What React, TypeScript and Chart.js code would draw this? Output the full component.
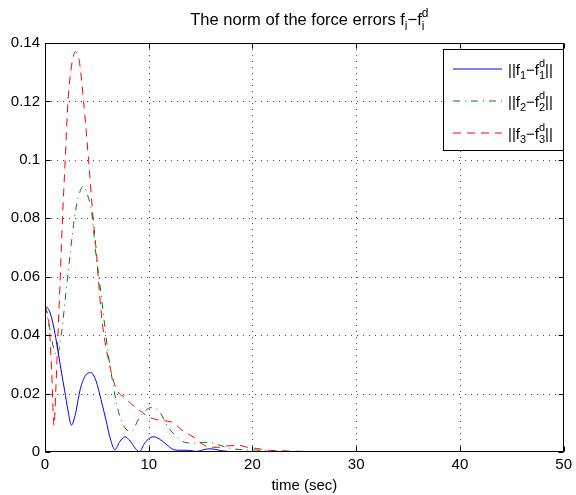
import React, { useEffect, useRef } from 'react';
import { Chart, registerables } from 'chart.js';

Chart.register(...registerables);

// ---- data ----
const f1Time = [0, 0.4, 0.8, 1.25, 1.6, 1.9, 2.2, 2.55, 2.9, 3.4, 3.9, 4.4, 4.9, 5.4, 5.9, 6.3, 6.75, 7.2, 7.7, 8.2, 8.7, 9.1, 9.6, 10.1, 10.5, 11.0, 11.7, 12.4, 13.0, 13.8, 14.6, 15.4, 16.0, 16.8, 17.6, 19, 22, 26, 50];
const f1Norm = [0.050, 0.0485, 0.0435, 0.0346, 0.027, 0.0209, 0.0145, 0.0092, 0.0125, 0.0215, 0.0262, 0.0272, 0.0245, 0.018, 0.0106, 0.0045, 0.0008, 0.0035, 0.0052, 0.0038, 0.0013, 0.0001, 0.003, 0.0048, 0.0052, 0.0045, 0.0026, 0.0008, 0.0006, 0.0006, 0.0002, 0.0009, 0.0011, 0.0006, 0.0002, 0.0001, 0, 0, 0];

const f2Time = [0, 0.4, 0.8, 1.15, 1.6, 2.0, 2.4, 2.8, 3.2, 3.7, 4.1, 4.5, 4.9, 5.3, 5.6, 6.1, 6.5, 6.9, 7.5, 8.3, 9.1, 9.7, 10.2, 11.0, 11.8, 12.6, 13.6, 14.6, 15.4, 16.0, 16.8, 17.8, 19, 20.3, 22, 25, 30, 50];
const f2Norm = [0.050, 0.0435, 0.036, 0.033, 0.041, 0.054, 0.067, 0.079, 0.087, 0.091, 0.088, 0.082, 0.068, 0.057, 0.048, 0.0335, 0.0245, 0.0165, 0.0095, 0.007, 0.0118, 0.0142, 0.0152, 0.014, 0.0089, 0.0055, 0.0032, 0.003, 0.0033, 0.0032, 0.0024, 0.0013, 0.0008, 0.0007, 0.0003, 0.0001, 0, 0];

const f3Time = [0, 0.25, 0.45, 0.65, 0.87, 1.05, 1.25, 1.45, 1.65, 1.95, 2.2, 2.55, 2.95, 3.3, 3.72, 4.2, 4.64, 4.94, 5.26, 5.58, 6.08, 6.7, 7.2, 7.6, 8.3, 9.0, 10.0, 11.0, 12.3, 13.3, 13.9, 14.4, 15.2, 15.8, 16.6, 17.4, 18.7, 19.4, 20.4, 21.6, 23, 25, 30, 50];
const f3Norm = [0.050, 0.047, 0.041, 0.027, 0.009, 0.022, 0.04, 0.058, 0.077, 0.1, 0.119, 0.132, 0.137, 0.134, 0.12, 0.1, 0.08, 0.069, 0.054, 0.0426, 0.0323, 0.0232, 0.0198, 0.019, 0.0165, 0.0146, 0.012, 0.0109, 0.0101, 0.0072, 0.006, 0.0049, 0.0026, 0.0017, 0.0016, 0.002, 0.0023, 0.0017, 0.0012, 0.0006, 0.0004, 0.0002, 0, 0];

const xTickValues = [0, 10, 20, 30, 40, 50];
const yTickValues = [0, 0.02, 0.04, 0.06, 0.08, 0.1, 0.12, 0.14];
const yTickLabels = ['0', '0.02', '0.04', '0.06', '0.08', '0.1', '0.12', '0.14'];
const seriesIndex = ['1', '2', '3'];
const seriesColors = ['#0000ff', '#008000', '#ff0000'];
const seriesDash = [[], [7, 5, 1, 5], [8, 6]];
const titleMain = 'The norm of the force errors f';
const titleIndex = 'i';
const xAxisTitle = 'time (sec)';

const FONT = '"Liberation Sans", Arial, Helvetica, sans-serif';
const MAIN = 15;

type Part = { text: string; sub?: string; sup?: string };

function richWidth(ctx: CanvasRenderingContext2D, parts: Part[], size: number) {
  const small = Math.round(size * 0.73);
  let w = 0;
  for (const p of parts) {
    ctx.font = `${size}px ${FONT}`;
    w += ctx.measureText(p.text).width;
    if (p.sub || p.sup) {
      ctx.font = `${small}px ${FONT}`;
      w += Math.max(p.sub ? ctx.measureText(p.sub).width : 0, p.sup ? ctx.measureText(p.sup).width : 0);
    }
  }
  return w;
}

function drawRich(ctx: CanvasRenderingContext2D, x: number, y: number, parts: Part[], size: number) {
  const small = Math.round(size * 0.73);
  let cx = x;
  ctx.textAlign = 'left';
  ctx.textBaseline = 'alphabetic';
  ctx.fillStyle = '#000';
  for (const p of parts) {
    ctx.font = `${size}px ${FONT}`;
    ctx.fillText(p.text, cx, y);
    cx += ctx.measureText(p.text).width;
    if (p.sub || p.sup) {
      ctx.font = `${small}px ${FONT}`;
      let w = 0;
      if (p.sub) {
        ctx.fillText(p.sub, cx, y + size * 0.33);
        w = Math.max(w, ctx.measureText(p.sub).width);
      }
      if (p.sup) {
        ctx.fillText(p.sup, cx, y - size * 0.47);
        w = Math.max(w, ctx.measureText(p.sup).width);
      }
      cx += w;
    }
  }
}

const decorPlugin = {
  id: 'matlabDecor',
  beforeDatasetsDraw(chart: any) {
    const { ctx, chartArea: a, scales } = chart;
    ctx.save();
    ctx.strokeStyle = '#4a4a4a';
    ctx.lineWidth = 1;
    ctx.setLineDash([1, 5]);
    for (const v of xTickValues.slice(1, -1)) {
      const px = Math.round(scales.x.getPixelForValue(v)) + 0.5;
      ctx.beginPath();
      ctx.moveTo(px, a.bottom);
      ctx.lineTo(px, a.top);
      ctx.stroke();
    }
    for (const v of yTickValues.slice(1, -1)) {
      const py = Math.round(scales.y.getPixelForValue(v)) + 0.5;
      ctx.beginPath();
      ctx.moveTo(a.left, py);
      ctx.lineTo(a.right, py);
      ctx.stroke();
    }
    ctx.restore();
  },
  afterDatasetsDraw(chart: any) {
    const { ctx, chartArea: a, scales } = chart;
    ctx.save();
    ctx.strokeStyle = '#000';
    ctx.lineWidth = 1;
    ctx.setLineDash([]);
    const L = Math.round(a.left) + 0.5;
    const R = Math.round(a.right) - 0.5;
    const T = Math.round(a.top) + 0.5;
    const B = Math.round(a.bottom) - 0.5;
    ctx.strokeRect(L, T, R - L, B - T);
    const tl = 5;
    ctx.beginPath();
    for (const v of xTickValues) {
      const px = Math.round(scales.x.getPixelForValue(v)) + 0.5;
      ctx.moveTo(px, B);
      ctx.lineTo(px, B - tl);
      ctx.moveTo(px, T);
      ctx.lineTo(px, T + tl);
    }
    for (const v of yTickValues) {
      const py = Math.round(scales.y.getPixelForValue(v)) + 0.5;
      ctx.moveTo(L, py);
      ctx.lineTo(L + tl, py);
      ctx.moveTo(R, py);
      ctx.lineTo(R - tl, py);
    }
    ctx.stroke();
    ctx.restore();
  },
  afterDraw(chart: any) {
    const { ctx, chartArea: a } = chart;
    // legend box
    ctx.save();
    ctx.setLineDash([]);
    ctx.lineWidth = 1;
    const lx = 443.5, ly = 49.5, lw = 120, lh = 101;
    ctx.fillStyle = '#ffffff';
    ctx.fillRect(lx, ly, lw, lh);
    ctx.strokeStyle = '#000000';
    ctx.strokeRect(lx, ly, lw, lh);
    ctx.restore();
    for (let i = 0; i < seriesIndex.length; i++) {
      const yLine = 69 + i * 32;
      ctx.save();
      ctx.lineWidth = 1;
      ctx.setLineDash(seriesDash[i].slice());
      ctx.strokeStyle = seriesColors[i];
      ctx.beginPath();
      ctx.moveTo(453, yLine);
      ctx.lineTo(502, yLine);
      ctx.stroke();
      ctx.restore();
      ctx.save();
      drawRich(ctx, 508, yLine + 5.5, [
        { text: '||f', sub: seriesIndex[i] },
        { text: '\u2212f', sub: seriesIndex[i], sup: 'd' },
        { text: '||' },
      ], MAIN);
      ctx.restore();
    }

    // title
    ctx.save();
    const titleParts: Part[] = [
      { text: titleMain, sub: titleIndex },
      { text: '\u2212f', sub: titleIndex, sup: 'd' },
    ];
    const TS = 16.5;
    const tw = richWidth(ctx, titleParts, TS);
    const cx = (a.left + a.right) / 2 + 5;
    drawRich(ctx, cx - tw / 2, 25, titleParts, TS);
    ctx.restore();
  },
};

export default function App() {
  const ref = useRef<HTMLCanvasElement | null>(null);
  useEffect(() => {
    document.body.style.margin = '0';
    const canvas = ref.current!;
    const mk = (t: number[], v: number[]) => t.map((x, i) => ({ x, y: v[i] }));
    const chart = new Chart(canvas, {
      type: 'line',
      data: {
        datasets: [
          { label: 'f1', data: mk(f1Time, f1Norm) },
          { label: 'f2', data: mk(f2Time, f2Norm) },
          { label: 'f3', data: mk(f3Time, f3Norm) },
        ].map((d, i) => ({
          ...d,
          borderColor: seriesColors[i],
          backgroundColor: seriesColors[i],
          borderWidth: 1,
          borderDash: seriesDash[i].slice(),
          pointRadius: 0,
          fill: false,
          cubicInterpolationMode: 'monotone' as const,
        })),
      },
      options: {
        responsive: false,
        animation: false,
        devicePixelRatio: 1,
        layout: { padding: { top: 43, right: 9, left: 0, bottom: 0 } },
        plugins: {
          legend: { display: false },
          title: { display: false },
          tooltip: { enabled: false },
        },
        scales: {
          x: {
            type: 'linear',
            min: 0,
            max: 50,
            grid: { display: false, drawTicks: false },
            border: { display: false },
            ticks: {
              stepSize: 10,
              color: '#000',
              padding: 4,
              maxRotation: 0,
              font: { family: FONT, size: MAIN },
              callback: (v: any) => String(v),
            },
            title: {
              display: true,
              text: xAxisTitle,
              color: '#000',
              font: { family: FONT, size: MAIN },
              padding: { top: 0, bottom: 0 },
            },
            afterFit: (s: any) => {
              s.height = 43;
            },
          },
          y: {
            type: 'linear',
            min: 0,
            max: 0.14,
            grid: { display: false, drawTicks: false },
            border: { display: false },
            ticks: {
              stepSize: 0.02,
              color: '#000',
              padding: 5,
              font: { family: FONT, size: MAIN },
              callback: (v: any) => yTickLabels[Math.round(Number(v) / 0.02)] ?? '',
            },
            afterFit: (s: any) => {
              s.width = 45;
            },
          },
        },
      },
      plugins: [decorPlugin],
    } as any);
    return () => chart.destroy();
  }, []);
  return (
    <div style={{ position: 'fixed', left: 0, top: 0, width: 576, height: 495, background: '#fff' }}>
      <canvas ref={ref} width={576} height={495} />
    </div>
  );
}
